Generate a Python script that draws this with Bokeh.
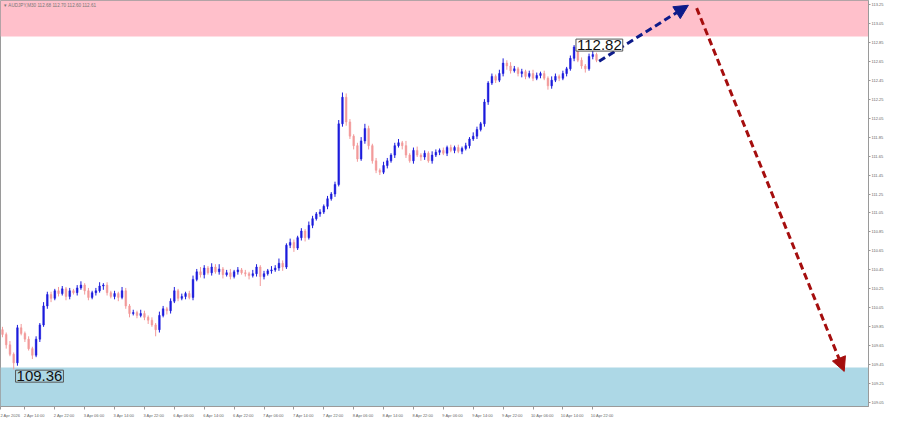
from bokeh.plotting import figure
from bokeh.models import (Range1d, LinearAxis, FixedTicker, BoxAnnotation, Arrow,
                          NormalHead, Label, NumeralTickFormatter)
from bokeh.embed import file_html
from bokeh.resources import INLINE

# ---------------- data (AUDJPY hourly bars) ----------------
first_open = 109.82
closes = [109.77,109.66,109.56,109.47,109.84,109.78,109.72,109.62,109.55,109.72,
          109.87,110.07,110.19,110.15,110.23,110.20,110.25,110.17,110.23,110.21,
          110.26,110.29,110.23,110.16,110.21,110.23,110.28,110.29,110.21,110.17,
          110.20,110.16,110.23,110.07,109.99,110.00,109.97,109.99,109.95,109.92,
          109.87,109.82,109.97,110.04,110.02,110.12,110.23,110.15,110.17,110.20,
          110.16,110.35,110.43,110.40,110.47,110.42,110.48,110.43,110.46,110.40,
          110.42,110.38,110.43,110.45,110.42,110.41,110.39,110.41,110.48,110.38,
          110.41,110.44,110.45,110.47,110.52,110.48,110.71,110.74,110.68,110.79,
          110.86,110.79,110.92,110.99,111.04,111.06,111.12,111.20,111.25,111.35,
          111.99,112.27,112.01,111.86,111.76,111.62,111.81,111.94,111.76,111.60,
          111.50,111.48,111.55,111.60,111.66,111.76,111.79,111.76,111.66,111.60,
          111.71,111.66,111.64,111.68,111.60,111.66,111.69,111.71,111.68,111.74,
          111.71,111.74,111.70,111.73,111.76,111.83,111.86,111.93,111.99,112.22,
          112.42,112.49,112.45,112.52,112.63,112.60,112.55,112.57,112.52,112.54,
          112.49,112.52,112.47,112.50,112.52,112.47,112.39,112.45,112.49,112.47,
          112.52,112.57,112.68,112.80,112.66,112.60,112.57,112.70,112.72,112.66]
upper_wick_pips = [3,2,4,2,3,4,2,3,2,3, 2,4,3,3,2,4,3,2,3,2, 3,4,2,3,2,3,4,2,3,2,
                   3,2,4,3,2,3,2,4,3,2, 3,2,4,3,2,3,4,2,3,2, 3,4,3,5,3,2,4,3,5,2,
                   3,4,2,3,2,3,2,4,3,2, 3,2,4,3,5,3,2,4,3,2, 3,2,4,3,2,3,2,3,2,3,
                   4,5,4,3,2,3,4,5,3,2, 3,2,4,3,2,3,4,2,5,2, 3,4,2,3,2,4,3,2,3,2,
                   3,2,3,2,3,2,4,3,2,3, 2,3,2,4,5,3,4,3,2,3, 2,3,4,3,2,3,2,4,3,2,
                   3,2,3,2,4,3,2,3,4,2]
lower_wick_pips = [3,4,2,7,3,2,3,2,4,2, 3,2,3,4,2,3,2,4,3,2, 3,2,4,3,2,3,2,4,3,2,
                   3,4,2,3,4,2,3,2,3,4, 2,7,3,2,4,3,2,3,2,3, 2,3,2,3,4,2,3,2,3,4,
                   2,3,2,3,2,3,4,2,3,10, 3,2,3,2,3,4,2,3,4,2, 3,4,2,3,2,3,2,3,2,3,
                   2,3,4,3,4,3,2,3,4,3, 3,3,2,3,2,3,2,4,3,2, 3,2,4,3,2,3,2,3,2,3,
                   2,3,2,3,2,3,2,3,2,3, 3,2,3,2,3,4,3,2,3,4, 3,2,3,2,3,2,4,3,2,3,
                   2,3,2,3,2,3,4,2,3,2]

# x-axis time labels (bar index of each label tick)
time_tick_bars = [-0.5, 6, 14, 22, 30, 38, 46, 54, 62, 70, 78, 86, 94, 102, 110, 118,
                  126, 134, 142, 150, 158]
time_tick_labels = ["2 Apr 2026", "2 Apr 14:00", "2 Apr 22:00", "3 Apr 06:00", "3 Apr 14:00",
                    "3 Apr 22:00", "6 Apr 06:00", "6 Apr 14:00", "6 Apr 22:00", "7 Apr 06:00",
                    "7 Apr 14:00", "7 Apr 22:00", "8 Apr 06:00", "8 Apr 14:00", "8 Apr 22:00",
                    "9 Apr 06:00", "9 Apr 14:00", "9 Apr 22:00", "10 Apr 06:00", "10 Apr 14:00",
                    "10 Apr 22:00"]
price_ticks = [109.05, 109.25, 109.45, 109.65, 109.85, 110.05, 110.25, 110.45, 110.65, 110.85,
               111.05, 111.25, 111.45, 111.65, 111.85, 112.05, 112.25, 112.45, 112.65, 112.85,
               113.05, 113.25]

# zones and forecast
resistance_zone_bottom = 112.91
support_zone_top = 109.42
forecast_up_x = [159.7, 183.6]
forecast_up_y = [112.65, 113.24]
forecast_down_x = [185.8, 225.3]
forecast_down_y = [113.21, 109.38]
low_label, high_label = "109.36", "112.82"
title_text = "\u25be AUDJPY,M30  112.68 112.70 112.60 112.61"

# ---------------- build candles ----------------
opens = [first_open] + closes[:-1]
bars = list(range(len(closes)))
highs = [max(o, c) + u / 100 for o, c, u in zip(opens, closes, upper_wick_pips)]
lows = [min(o, c) - l / 100 for o, c, l in zip(opens, closes, lower_wick_pips)]
BULL, BEAR = "#1c1cdc", "#f29a9a"
colors = [BULL if c >= o else BEAR for o, c in zip(opens, closes)]
tops = [max(o, c) for o, c in zip(opens, closes)]
bottoms = [min(o, c) for o, c in zip(opens, closes)]

p = figure(frame_width=868, frame_height=406,
           x_range=Range1d(-0.53, 231.8), y_range=Range1d(109.01, 113.29),
           output_backend="svg", toolbar_location=None,
           x_axis_location=None, y_axis_location=None,
           min_border_left=0, min_border_top=0, min_border_right=0, min_border_bottom=0)
p.grid.visible = False
p.background_fill_color = "white"
p.border_fill_color = "white"
p.outline_line_color = "#9a9a9a"

AX_FONT = "4px"
# axes
ax_r = LinearAxis(ticker=FixedTicker(ticks=price_ticks), formatter=NumeralTickFormatter(format="0.00"))
ax_r.major_label_text_font_size = AX_FONT
ax_r.major_label_text_color = "#666666"
ax_r.major_label_text_font = "Liberation Sans"
ax_r.axis_line_color = "#9a9a9a"
ax_r.major_tick_line_color = "#9a9a9a"
ax_r.major_tick_out = 2
ax_r.major_tick_in = 0
ax_r.minor_tick_line_color = None
ax_r.major_label_standoff = 1
ax_r.axis_label_standoff = 0
p.add_layout(ax_r, "right")

label_offset = 2.5
centers = [b + label_offset for b in time_tick_bars]
ax_b = LinearAxis(ticker=FixedTicker(ticks=centers, minor_ticks=time_tick_bars))
ax_b.major_label_overrides = {c: t for c, t in zip(centers, time_tick_labels)}
ax_b.major_label_text_font_size = AX_FONT
ax_b.major_label_text_color = "#666666"
ax_b.major_label_text_font = "Liberation Sans"
ax_b.axis_line_color = "#9a9a9a"
ax_b.major_tick_line_color = None
ax_b.major_tick_out = 0
ax_b.major_tick_in = 0
ax_b.minor_tick_line_color = "#9a9a9a"
ax_b.minor_tick_out = 3
ax_b.minor_tick_in = 0
ax_b.major_label_standoff = 3
ax_b.axis_label_standoff = 0
p.add_layout(ax_b, "below")

# zones
p.add_layout(BoxAnnotation(bottom=resistance_zone_bottom, fill_color="#ffc0cb", fill_alpha=1,
                           line_color=None, level="underlay"))
p.add_layout(BoxAnnotation(top=support_zone_top, fill_color="#add8e6", fill_alpha=1,
                           line_color=None, level="underlay"))

# candles
p.segment(x0=bars, y0=lows, x1=bars, y1=highs, line_color=colors, line_width=1)
p.vbar(x=bars, width=0.45, top=tops, bottom=bottoms, fill_color=colors, line_color=colors,
       line_width=0.5)

# forecast arrows
p.add_layout(Arrow(x_start=forecast_up_x[0], y_start=forecast_up_y[0],
                   x_end=forecast_up_x[1], y_end=forecast_up_y[1],
                   line_color="#0d1b8a", line_width=3, line_dash="7 4",
                   end=NormalHead(size=14, fill_color="#0d1b8a", line_color="#0d1b8a")))
p.add_layout(Arrow(x_start=forecast_down_x[0], y_start=forecast_down_y[0],
                   x_end=forecast_down_x[1], y_end=forecast_down_y[1],
                   line_color="#a50e0e", line_width=3, line_dash="7 4",
                   end=NormalHead(size=14, fill_color="#a50e0e", line_color="#a50e0e")))

# price labels
lo_i = lows.index(min(lows))
p.add_layout(Label(x=lo_i + 0.5, y=min(lows) - 0.07, text=low_label, text_font="Liberation Sans",
                   text_font_size="15px", text_color="#111111", text_baseline="middle",
                   border_line_color="#555555", border_line_width=1, padding=1))
hi_i = 153
p.add_layout(Label(x=hi_i + 0.5, y=highs[hi_i], text=high_label, text_font="Liberation Sans",
                   text_font_size="15px", text_color="#111111", text_baseline="middle",
                   background_fill_color="white", border_line_color="#555555",
                   border_line_width=1, padding=1))

# title
p.add_layout(Label(x=0.5, y=113.24, text=title_text, text_font="Liberation Sans",
                   text_font_size="4.6px", text_color="#777777", text_baseline="middle"))

open("out.html", "w").write(file_html(p, INLINE))
